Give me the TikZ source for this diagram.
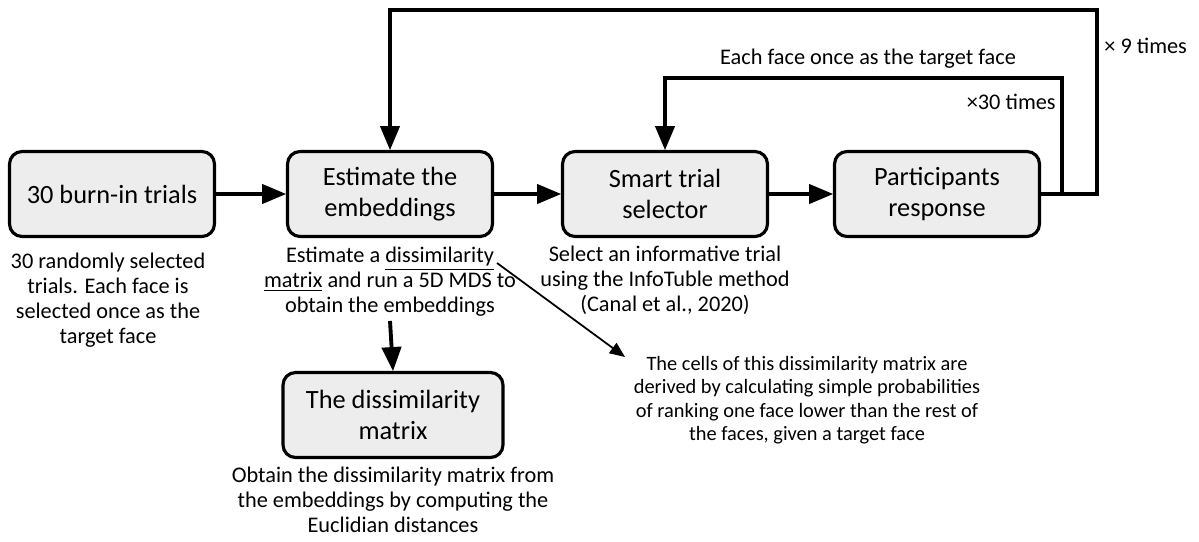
\documentclass[tikz,border=0pt]{standalone}
\usepackage{fontspec}
\setmainfont{Carlito}
\usepackage{tikz}
\usetikzlibrary{arrows}

\begin{document}
\begin{tikzpicture}[x=0.02cm,y=-0.02cm]

  %Styles for picture
  \tikzset
  {
  stepbox/.style={rectangle, rounded corners=0.25cm, draw=black, line width=1.8pt, fill=black!7, minimum width=4.1cm, minimum height=1.7cm, align=center, font=\fontsize{15}{17.5}\selectfont},
  note/.style={align=center, font=\fontsize{12.7}{14.2}\selectfont, inner sep=0pt},
  smallnote/.style={note, font=\fontsize{11.6}{13.4}\selectfont},
  flow/.style={line width=2.2pt, -triangle 45},
  loop/.style={line width=2.2pt},
  }

  \useasboundingbox (0,0) rectangle (1199,541);

  %Nodes
  \node[stepbox] (b1) at (112,194) {30 burn-in trials};
  \node[stepbox] (b2) at (390,194) {Estimate the\\embeddings};
  \node[stepbox] (b3) at (665,194) {Smart trial\\selector};
  \node[stepbox] (b4) at (937,194) {Participants\\response};
  \node[stepbox, minimum width=4.4cm] (b5) at (393,415) {The dissimilarity\\matrix};

  \node[note] (n1) at (108,300) {30 randomly selected\\trials. Each face is\\selected once as the\\target face};
  \node[note] (n2) at (390,282) {Estimate a \underline{dissimilarity}\\\underline{matrix} and run a 5D MDS to\\obtain the embeddings};
  \node[note] (n3) at (665,280) {Select an informative trial\\using the InfoTuble method\\(Canal et al., 2020)};
  \node[note] (n4) at (393,500) {Obtain the dissimilarity matrix from\\the embeddings by computing the\\Euclidian distances};
  \node[smallnote] (n5) at (807,400) {The cells of this dissimilarity matrix are\\derived by calculating simple probabilities\\of ranking one face lower than the rest of\\the faces, given a target face};

  \node[note] (l1) at (868,59) {Each face once as the target face};
  \node[note, anchor=east] (l2) at (1056,102) {×30 times};
  \node[note, anchor=west] (l3) at (1104,46) {× 9 times};

  \coordinate (o1) at (1097,10);
  \coordinate (i1) at (1062,78);
  \coordinate (d1) at (497,263);
  \coordinate (d2) at (625,357);

  %Edges
  \draw[flow] (b1.east) -- (b2.west);
  \draw[flow] (b2.east) -- (b3.west);
  \draw[flow] (b3.east) -- (b4.west);
  \draw[flow] ([yshift=-0.08cm]n2.south) -- (b5.north);
  \draw[loop, -triangle 45] (b4.east) -| (o1) -| (b2.north);
  \draw[loop, -triangle 45] (b4.east) -| (i1) -| (b3.north);
  \draw[line width=1pt, -triangle 45] (d1) -- (d2);
\end{tikzpicture}
\end{document}
